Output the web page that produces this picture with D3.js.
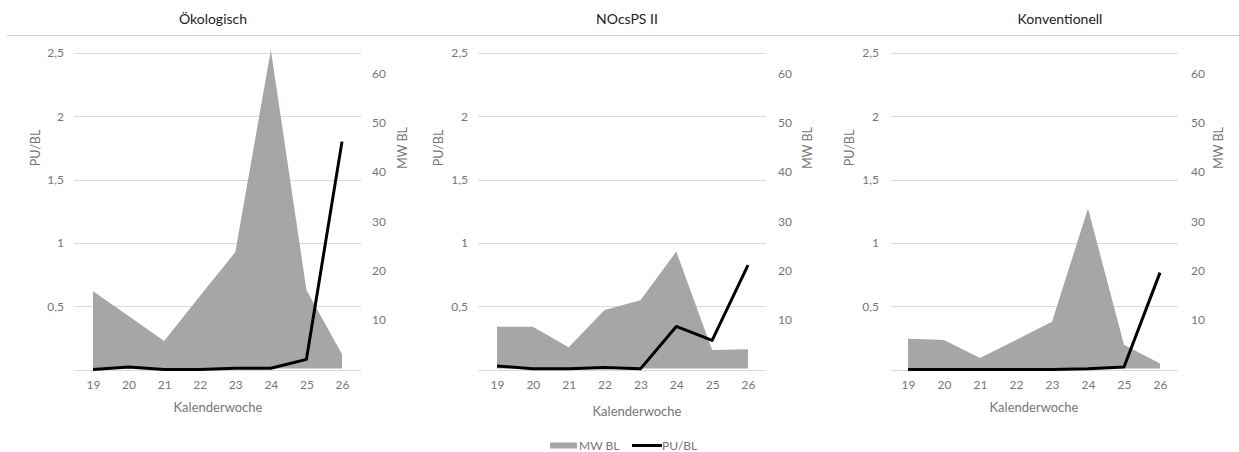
<!DOCTYPE html>
<html><head><meta charset="utf-8">
<script src="https://cdn.jsdelivr.net/npm/d3@7"></script>
<style>
html,body{margin:0;padding:0;background:#fff;}
svg{display:block;font-family:Lato,"Open Sans",sans-serif;}
</style></head>
<body>
<svg id="chart" width="1239" height="452"></svg>
<script>
// ---- data ----
const weeks = [19, 20, 21, 22, 23, 24, 25, 26];
const panelTitles = ["Ökologisch", "NOcsPS II", "Konventionell"];
const mwOeko = [15.7, 10.7, 5.6, 14.7, 23.7, 64.9, 16.0, 2.9];
const puOeko = [0, 0.02, 0, 0, 0.01, 0.01, 0.08, 1.80];
const mwNocs = [8.5, 8.5, 4.3, 11.9, 13.9, 23.8, 3.75, 3.9];
const puNocs = [0.028, 0.005, 0.005, 0.015, 0.005, 0.34, 0.23, 0.825];
const mwKonv = [6.05, 5.8, 2.1, 5.8, 9.5, 32.6, 4.8, 1.0];
const puKonv = [0, 0, 0, 0, 0, 0.005, 0.02, 0.765];
const leftTicks = [0, 0.5, 1, 1.5, 2, 2.5];
const rightTicks = [10, 20, 30, 40, 50, 60];
const fmtComma = d => d3.format("")(d).replace(".", ",");

const series = [
  {title: panelTitles[0], mw: mwOeko, pu: puOeko},
  {title: panelTitles[1], mw: mwNocs, pu: puNocs},
  {title: panelTitles[2], mw: mwKonv, pu: puKonv}
];
// layout per panel
const layouts = [
  {gx0: 74, gx1: 361, px0: 93, px1: 342, lTick: 64, puX: 36, rTick: 372, mwX: 403, titleX: 213, xtX: 218, xtY: 412},
  {gx0: 478, gx1: 766, px0: 497, px1: 748, lTick: 468, puX: 439, rTick: 778, mwX: 808, titleX: 627, xtX: 637, xtY: 416},
  {gx0: 891, gx1: 1178, px0: 908, px1: 1160, lTick: 879, puX: 850, rTick: 1191, mwX: 1219, titleX: 1060, xtX: 1034, xtY: 412}
];

const AREA = "#a8a5a5", GRID = "#d9d9d9", TXT = "#767676";
const FONT = "Lato,'Open Sans',sans-serif";
const svg = d3.select("#chart");

// separator under titles
svg.append("line").attr("x1", 7).attr("x2", 1239).attr("y1", 35.5).attr("y2", 35.5)
  .attr("stroke", "#cfcfcf").attr("stroke-width", 1);

const yL = d3.scaleLinear().domain([0, 2.5]).range([369.5, 53]);
const yR = d3.scaleLinear().domain([0, 60]).range([368.4, 74]);

series.forEach((s, i) => {
  const L = layouts[i];
  const x = d3.scalePoint().domain(weeks).range([L.px0, L.px1]);
  const g = svg.append("g");

  // title
  g.append("text").attr("x", L.titleX).attr("y", 24).attr("text-anchor", "middle")
    .attr("font-size", 14).attr("fill", "#222").text(s.title);

  // gridlines
  g.selectAll("line.grid").data(leftTicks).join("line")
    .attr("x1", L.gx0).attr("x2", L.gx1)
    .attr("y1", d => Math.round(yL(d)) + 0.5).attr("y2", d => Math.round(yL(d)) + 0.5)
    .attr("stroke", GRID).attr("stroke-width", 1);

  // area MW BL
  const area = d3.area().x((d, j) => x(weeks[j])).y0(yR(0)).y1(d => yR(d));
  g.append("path").datum(s.mw).attr("d", area).attr("fill", AREA);

  // line PU/BL
  const line = d3.line().x((d, j) => x(weeks[j])).y(d => yL(d));
  g.append("path").datum(s.pu).attr("d", line).attr("fill", "none")
    .attr("stroke", "#000").attr("stroke-width", 3).attr("stroke-linejoin", "round");

  // left axis
  const la = g.append("g").attr("transform", `translate(${L.lTick},0)`)
    .call(d3.axisLeft(yL).tickValues(leftTicks.filter(d => d > 0)).tickSize(0).tickPadding(0).tickFormat(fmtComma));
  la.select(".domain").remove();
  la.selectAll("text").attr("font-size", 12).attr("fill", TXT).attr("font-family", FONT);

  // right axis
  const ra = g.append("g").attr("transform", `translate(${L.rTick},0)`)
    .call(d3.axisRight(yR).tickValues(rightTicks).tickSize(0).tickPadding(0));
  ra.select(".domain").remove();
  ra.selectAll("text").attr("font-size", 12).attr("fill", TXT).attr("font-family", FONT);

  // x axis
  const xa = g.append("g").attr("transform", `translate(0,380)`)
    .call(d3.axisBottom(x).tickSize(0).tickPadding(0));
  xa.select(".domain").remove();
  xa.selectAll("text").attr("font-size", 12).attr("fill", TXT).attr("font-family", FONT);

  // axis titles
  g.append("text").attr("transform", `translate(${L.puX},148) rotate(-90)`).attr("text-anchor", "middle")
    .attr("dy", "0.35em").attr("font-size", 12.5).attr("fill", TXT).text("PU/BL");
  g.append("text").attr("transform", `translate(${L.mwX},148) rotate(-90)`).attr("text-anchor", "middle")
    .attr("dy", "0.35em").attr("font-size", 12.5).attr("fill", TXT).text("MW BL");
  g.append("text").attr("x", L.xtX).attr("y", L.xtY).attr("text-anchor", "middle")
    .attr("font-size", 13).attr("fill", TXT).text("Kalenderwoche");
});

// legend
const lg = svg.append("g");
lg.append("rect").attr("x", 550).attr("y", 442.5).attr("width", 27).attr("height", 6).attr("fill", AREA);
lg.append("text").attr("x", 579).attr("y", 450).attr("font-size", 12).attr("fill", TXT).text("MW BL");
lg.append("line").attr("x1", 632).attr("x2", 662).attr("y1", 445.5).attr("y2", 445.5)
  .attr("stroke", "#000").attr("stroke-width", 3);
lg.append("text").attr("x", 662).attr("y", 450).attr("font-size", 12).attr("fill", TXT).text("PU/BL");
</script>
</body></html>
